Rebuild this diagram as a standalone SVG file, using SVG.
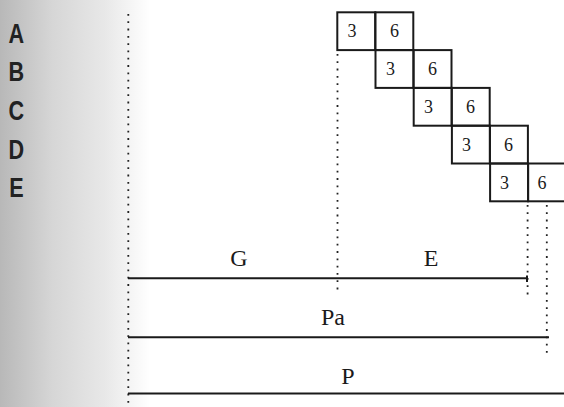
<svg xmlns="http://www.w3.org/2000/svg" width="564" height="407" viewBox="0 0 564 407">
<defs>
<linearGradient id="shade" x1="0" y1="0" x2="1" y2="0">
<stop offset="0" stop-color="#b8b8b8"/>
<stop offset="0.35" stop-color="#d6d6d6"/>
<stop offset="0.7" stop-color="#e8e8e8"/>
<stop offset="1" stop-color="#ffffff"/>
</linearGradient>
</defs>
<style>
.cell{fill:none;stroke:#1a1a1a;stroke-width:2}
.num{font-family:"Liberation Serif",serif;font-size:18px;fill:#1a1a1a;text-anchor:middle}
.row{font-family:"Liberation Sans",sans-serif;font-weight:bold;font-size:27px;fill:#222;text-anchor:middle}
.lbl{font-family:"Liberation Serif",serif;font-size:24px;fill:#1a1a1a;text-anchor:middle}
.dot{fill:none;stroke:#222;stroke-width:1.8;stroke-dasharray:1.8 5.5}
.bar{fill:none;stroke:#1a1a1a;stroke-width:2}
</style>
<rect x="0" y="0" width="564" height="407" fill="#ffffff"/>
<rect x="0" y="0" width="150" height="407" fill="url(#shade)"/>
<g id="row-labels" transform="scale(0.8,1)">
<text class="row" x="20.5" y="43">A</text>
<text class="row" x="20.5" y="81">B</text>
<text class="row" x="20.5" y="120">C</text>
<text class="row" x="20.5" y="159">D</text>
<text class="row" x="20.5" y="197">E</text>
</g>
<g id="row-A">
<rect class="cell" x="337.3" y="12.3" width="38" height="37.8"/>
<rect class="cell" x="375.3" y="12.3" width="38" height="37.8"/>
<text class="num" x="352" y="37">3</text>
<text class="num" x="394.5" y="37">6</text>
</g>
<g id="row-B">
<rect class="cell" x="375.5" y="50.1" width="38" height="37.8"/>
<rect class="cell" x="413.5" y="50.1" width="38" height="37.8"/>
<text class="num" x="390.5" y="75">3</text>
<text class="num" x="432.5" y="75">6</text>
</g>
<g id="row-C">
<rect class="cell" x="413.7" y="87.9" width="38" height="37.8"/>
<rect class="cell" x="451.7" y="87.9" width="38" height="37.8"/>
<text class="num" x="428.5" y="113">3</text>
<text class="num" x="470.5" y="113">6</text>
</g>
<g id="row-D">
<rect class="cell" x="451.9" y="125.7" width="38" height="37.8"/>
<rect class="cell" x="489.9" y="125.7" width="38" height="37.8"/>
<text class="num" x="466.5" y="151">3</text>
<text class="num" x="508.5" y="151">6</text>
</g>
<g id="row-E">
<rect class="cell" x="490.1" y="163.5" width="38" height="37.8"/>
<rect class="cell" x="528.1" y="163.5" width="38" height="37.8"/>
<text class="num" x="504.5" y="189">3</text>
<text class="num" x="542" y="189">6</text>
</g>
<g id="connectors">
<line class="dot" x1="128.3" y1="14" x2="128.3" y2="407"/>
<line class="dot" x1="337.5" y1="54" x2="337.5" y2="294"/>
<line class="dot" x1="527.6" y1="205" x2="527.6" y2="298"/>
<line class="dot" x1="546.8" y1="205" x2="546.8" y2="354"/>
<line class="bar" x1="128" y1="278.3" x2="527" y2="278.3"/>
<line class="bar" x1="527" y1="275.5" x2="527" y2="282"/>
<line class="bar" x1="128" y1="337.3" x2="549" y2="337.3"/>
<line class="bar" x1="128" y1="393.5" x2="564" y2="393.5"/>
</g>
<g id="labels">
<text class="lbl" x="239" y="266">G</text>
<text class="lbl" x="431" y="266">E</text>
<text class="lbl" x="333" y="325">Pa</text>
<text class="lbl" x="348" y="384">P</text>
</g>
</svg>
